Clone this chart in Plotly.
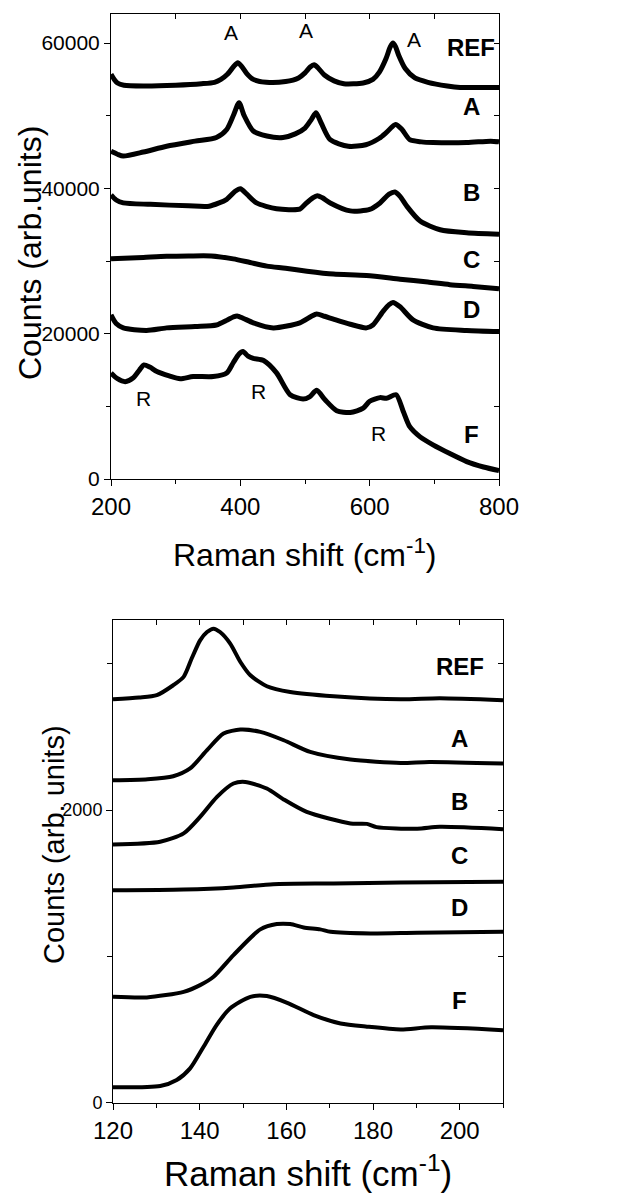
import plotly.graph_objects as go

# ---------------- Top panel data (Raman shift cm-1, counts) ----------------
ref_x = [200, 205, 210, 220, 250, 300, 340, 360, 370, 380, 390, 396, 402, 410, 420, 440, 470, 490, 500, 508, 514, 520, 530, 545, 560, 590, 605, 615, 625, 632, 636, 640, 645, 655, 670, 690, 720, 740, 800]
ref_y = [55700, 55000, 54500, 54200, 54100, 54200, 54400, 54600, 55000, 55700, 56800, 57300, 56800, 55800, 55000, 54600, 54700, 55200, 55900, 56700, 57000, 56600, 55600, 54800, 54400, 54500, 55000, 56000, 57800, 59500, 60000, 59500, 58300, 56500, 55200, 54600, 54100, 53900, 53900]

a_x = [200, 210, 219, 250, 286, 330, 363, 379, 390, 398, 406, 420, 441, 466, 485, 500, 510, 517, 525, 539, 567, 594, 615, 626, 640, 650, 662, 680, 698, 750, 787, 800]
a_y = [45100, 44700, 44450, 45000, 45800, 46500, 47000, 48100, 50200, 51800, 50000, 47900, 47200, 47000, 47500, 48300, 49500, 50400, 49000, 46700, 45800, 46000, 46900, 47700, 48800, 48100, 46700, 46400, 46300, 46300, 46500, 46400]

b_x = [200, 208, 219, 261, 320, 352, 379, 392, 400, 410, 425, 456, 492, 500, 512, 519, 527, 539, 570, 600, 616, 630, 639, 647, 657, 678, 709, 750, 800]
b_y = [39100, 38400, 38000, 37800, 37600, 37550, 38500, 39600, 39950, 39200, 38000, 37200, 37150, 37800, 38700, 39000, 38700, 38000, 36900, 37100, 38000, 39200, 39500, 38900, 37600, 35500, 34300, 33900, 33700]

c_x = [200, 250, 286, 320, 355, 389, 415, 441, 470, 503, 544, 595, 647, 690, 724, 760, 800]
c_y = [30300, 30500, 30650, 30700, 30700, 30300, 29800, 29300, 29000, 28600, 28200, 28000, 27500, 27100, 26750, 26500, 26200]

d_x = [200, 208, 219, 255, 286, 330, 363, 380, 389, 395, 405, 420, 451, 492, 510, 518, 530, 544, 570, 595, 605, 621, 630, 636, 647, 667, 698, 750, 800]
d_y = [22600, 21400, 20800, 20450, 20800, 21000, 21200, 21900, 22300, 22450, 22100, 21500, 20800, 21500, 22400, 22700, 22400, 22000, 21300, 20800, 21200, 23100, 24000, 24300, 23700, 21900, 20800, 20450, 20300]

f_x = [200, 210, 222, 234, 244, 251, 260, 271, 290, 307, 327, 358, 379, 389, 398, 404, 412, 420, 436, 456, 477, 497, 507, 518, 531, 549, 570, 590, 600, 616, 626, 641, 652, 662, 678, 698, 724, 750, 776, 800]
f_y = [14600, 13800, 13400, 13900, 15000, 15700, 15400, 14800, 14200, 13800, 14100, 14100, 14600, 16000, 17200, 17550, 16900, 16600, 16300, 14600, 11600, 11000, 11300, 12200, 10900, 9400, 9150, 9750, 10700, 11200, 11100, 11600, 9300, 7200, 5800, 4700, 3500, 2400, 1650, 1150]

top_series = [("REF", ref_x, ref_y), ("A", a_x, a_y), ("B", b_x, b_y),
              ("C", c_x, c_y), ("D", d_x, d_y), ("F", f_x, f_y)]
top_label_y = [59400, 51200, 39400, 30200, 23300, 6100]
top_label_x = 757
top_xticks = [200, 400, 600, 800]
top_yticks = [0, 20000, 40000, 60000]
peak_a_x = [386, 502, 668]
peak_a_y = [61500, 61700, 60500]
peak_r_x = [250, 428, 614]
peak_r_y = [11100, 12000, 6300]

# ---------------- Bottom panel data ----------------
bref_x = [120, 126, 130.1, 133.9, 136.3, 138.2, 140.1, 141.7, 143.2, 144.7, 147.05, 149.4, 151.7, 155.5, 160.9, 170.9, 186.4, 195.4, 210]
bref_y = [2758, 2770, 2786, 2854, 2911, 3040, 3161, 3218, 3241, 3218, 3139, 3013, 2922, 2847, 2808, 2779, 2758, 2765, 2752]

ba_x = [120, 128, 133.9, 137.8, 141.7, 145.5, 149.4, 154, 159.4, 165.5, 174.8, 186.4, 193, 210]
ba_y = [2205, 2212, 2232, 2285, 2410, 2524, 2551, 2535, 2478, 2398, 2346, 2323, 2330, 2319]

bb_x = [120, 130.9, 136.3, 140.1, 144, 147.8, 150.5, 155.5, 159.4, 164.7, 174.8, 178.6, 180.8, 190.2, 195.4, 210]
bb_y = [1765, 1784, 1841, 1954, 2091, 2182, 2193, 2148, 2073, 1988, 1909, 1906, 1884, 1873, 1886, 1870]

bc_x = [120, 136.3, 147.8, 157, 170.9, 186.4, 210]
bc_y = [1453, 1458, 1472, 1494, 1499, 1506, 1510]

bd_x = [120, 127.8, 136.3, 140.1, 143.2, 147.8, 154, 157.8, 160.9, 164, 167.8, 170.2, 179.4, 190.2, 210]
bd_y = [724, 720, 758, 804, 861, 1009, 1185, 1221, 1221, 1198, 1185, 1168, 1157, 1162, 1168]

bf_x = [120, 130.9, 134.7, 137.8, 140.9, 143.9, 147.05, 151.7, 155.5, 160.2, 166.3, 172.5, 178.6, 186.4, 193.4, 210]
bf_y = [105, 114, 155, 235, 383, 531, 645, 724, 729, 683, 599, 542, 520, 501, 515, 496]

bottom_series = [("REF", bref_x, bref_y), ("A", ba_x, ba_y), ("B", bb_x, bb_y),
                 ("C", bc_x, bc_y), ("D", bd_x, bd_y), ("F", bf_x, bf_y)]
bottom_label_y = [2979, 2490, 2057, 1692, 1335, 702]
bottom_label_x = 200
bot_xticks = [120, 140, 160, 180, 200]
bot_yticks = [0, 2000]

FONT = "Liberation Sans, Arial, sans-serif"
W, H = 636, 1198

fig = go.Figure()
for name, xs, ys in top_series:
    fig.add_trace(go.Scatter(x=xs, y=ys, mode="lines", name=name,
                             line=dict(color="black", width=5, shape="spline", smoothing=0.7),
                             xaxis="x", yaxis="y", showlegend=False, hoverinfo="skip"))
for name, xs, ys in bottom_series:
    fig.add_trace(go.Scatter(x=xs, y=ys, mode="lines", name=name,
                             line=dict(color="black", width=4, shape="spline", smoothing=0.7),
                             xaxis="x2", yaxis="y2", showlegend=False, hoverinfo="skip"))
# empty traces to bind mirror axes
fig.add_trace(go.Scatter(x=[None], y=[None], xaxis="x3", yaxis="y3", showlegend=False))
fig.add_trace(go.Scatter(x=[None], y=[None], xaxis="x4", yaxis="y4", showlegend=False))

top_dom_x = [111 / W, 499 / W]
top_dom_y = [1 - 479 / H, 1 - 14 / H]
bot_dom_x = [113 / W, 503 / W]
bot_dom_y = [1 - 1102.7 / H, 1 - 620 / H]

ax_common = dict(showline=True, linecolor="black", linewidth=1, showgrid=False, automargin=False,
                 zeroline=False, ticks="outside", tickcolor="black", ticklen=6, tickwidth=1)
mirror_common = dict(ticks="inside", ticklen=5, tickcolor="black", showticklabels=False,
                     showline=True, linecolor="black", linewidth=1, showgrid=False,
                     zeroline=False, automargin=False)

fig.update_layout(
    template="none",
    width=W, height=H, margin=dict(l=0, r=0, t=0, b=0, pad=0, autoexpand=False),
    paper_bgcolor="white", plot_bgcolor="white",
    font=dict(family=FONT, color="black"),
    xaxis=dict(domain=top_dom_x, range=[200, 800], anchor="y",
               tickvals=top_xticks, ticktext=[str(v) for v in top_xticks],
               tickfont=dict(size=24, family=FONT, color="black"),
               minor=dict(tickvals=[300, 500, 700], ticks="outside", ticklen=4, tickcolor="black"),
               **ax_common),
    yaxis=dict(domain=top_dom_y, range=[0, 64000], anchor="x",
               tickvals=top_yticks, ticktext=[str(v) for v in top_yticks],
               tickfont=dict(size=21, family=FONT, color="black"),
               minor=dict(tickvals=[10000, 30000, 50000], ticks="outside", ticklen=4, tickcolor="black"),
               **ax_common),
    xaxis3=dict(overlaying="x", side="top", anchor="y3", range=[200, 800],
                tickvals=[200, 300, 400, 500, 600, 700, 800], **mirror_common),
    yaxis3=dict(overlaying="y", side="right", anchor="x3", range=[0, 64000],
                tickvals=[0, 10000, 20000, 30000, 40000, 50000, 60000], **mirror_common),
    xaxis2=dict(domain=bot_dom_x, range=[120, 210], anchor="y2",
                tickvals=bot_xticks, ticktext=[str(v) for v in bot_xticks],
                tickfont=dict(size=24, family=FONT, color="black"),
                minor=dict(tickvals=[130, 150, 170, 190, 210], ticks="outside", ticklen=4, tickcolor="black"),
                **ax_common),
    yaxis2=dict(domain=bot_dom_y, range=[0, 3300], anchor="x2",
                tickvals=bot_yticks, ticktext=[str(v) for v in bot_yticks],
                tickfont=dict(size=18, family=FONT, color="black"),
                minor=dict(tickvals=[1000, 3000], ticks="outside", ticklen=5, tickcolor="black"),
                **ax_common),
    xaxis4=dict(overlaying="x2", side="top", anchor="y4", range=[120, 210],
                tickvals=[120, 130, 140, 150, 160, 170, 180, 190, 200, 210], **mirror_common),
    yaxis4=dict(overlaying="y2", side="right", anchor="x4", range=[0, 3300],
                tickvals=[0, 1000, 2000, 3000], **mirror_common),
)

ann = []
def add_ann(**kw):
    kw.setdefault("showarrow", False)
    kw.setdefault("xanchor", "center")
    kw.setdefault("yanchor", "middle")
    ann.append(kw)

for (name, _, _), ly in zip(top_series, top_label_y):
    add_ann(x=top_label_x, y=ly, xref="x", yref="y", text="<b>%s</b>" % name,
            font=dict(size=24, family=FONT, color="black"))
for px_, py_ in zip(peak_a_x, peak_a_y):
    add_ann(x=px_, y=py_, xref="x", yref="y", text="A",
            font=dict(size=21, family=FONT, color="black"))
for px_, py_ in zip(peak_r_x, peak_r_y):
    add_ann(x=px_, y=py_, xref="x", yref="y", text="R",
            font=dict(size=21, family=FONT, color="black"))
for (name, _, _), ly in zip(bottom_series, bottom_label_y):
    add_ann(x=bottom_label_x, y=ly, xref="x2", yref="y2", text="<b>%s</b>" % name,
            font=dict(size=24, family=FONT, color="black"))

# axis titles
add_ann(x=305 / W, y=1 - 553 / H, xref="paper", yref="paper",
        text="Raman shift (cm<sup>-1</sup>)", font=dict(size=32, family=FONT, color="black"))
add_ann(x=308 / W, y=1 - 1171 / H, xref="paper", yref="paper",
        text="Raman shift (cm<sup>-1</sup>)", font=dict(size=35, family=FONT, color="black"))
add_ann(x=30 / W, y=1 - 253 / H, xref="paper", yref="paper",
        text="Counts (arb.units)", textangle=-90, font=dict(size=32, family=FONT, color="black"))
add_ann(x=54 / W, y=1 - 845 / H, xref="paper", yref="paper",
        text="Counts (arb. units)", textangle=-90, font=dict(size=29, family=FONT, color="black"))
fig.update_layout(annotations=ann)

fig.write_html("out.html")
